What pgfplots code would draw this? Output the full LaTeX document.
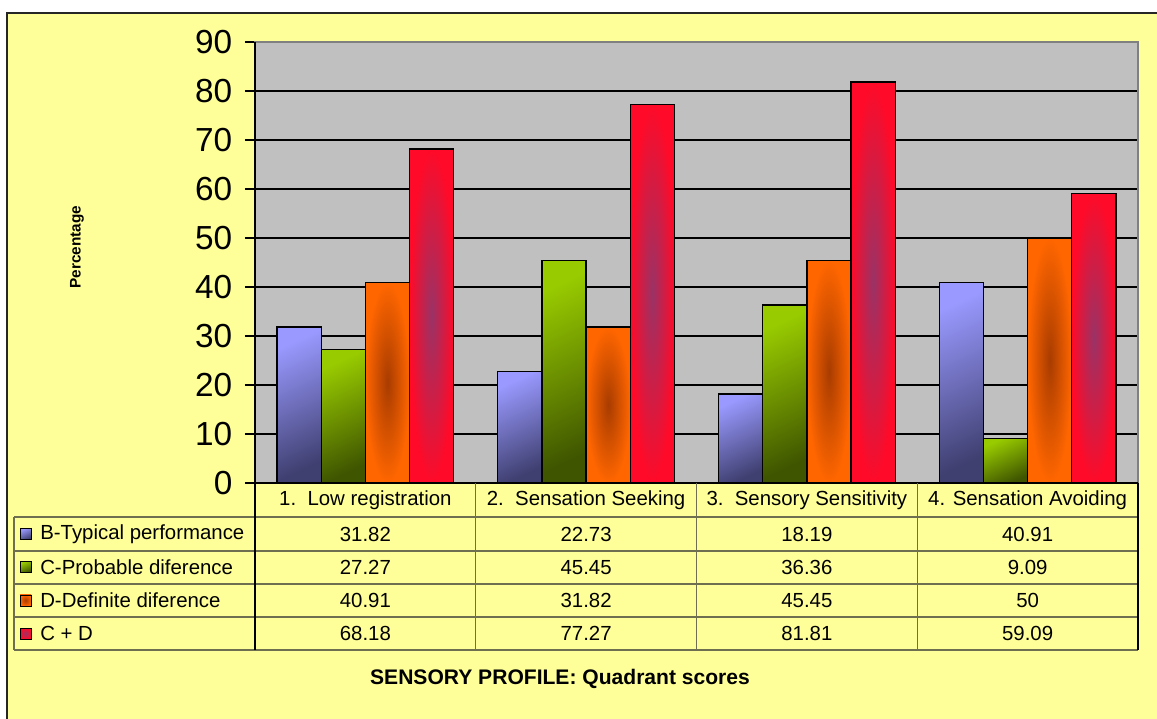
\documentclass[border=0pt]{standalone}
\usepackage{pgfplots}
\usepackage{pgfplotstable}
\pgfplotsset{compat=1.18}
\usepackage{fontspec}
\setmainfont{Liberation Sans}

\definecolor{chartbg}{HTML}{FFFF99}
\definecolor{plotbg}{HTML}{C0C0C0}
\definecolor{rulec}{HTML}{6E6E50}
\definecolor{bLight}{HTML}{9999FF}
\definecolor{bDark}{HTML}{3F3F70}
\definecolor{gLight}{HTML}{99CC00}
\definecolor{gDark}{HTML}{3F5500}
\definecolor{oEdge}{HTML}{FF6600}
\definecolor{oCore}{HTML}{A83C00}
\definecolor{rEdge}{HTML}{FF0A28}
\definecolor{rCore}{HTML}{993366}

\tikzset{
  shadeB/.style={top color=bLight, bottom color=bDark, shading angle=25},
  shadeC/.style={top color=gLight, bottom color=gDark, shading angle=25},
  shadeD/.style={inner color=oCore, outer color=oEdge},
  shadeCD/.style={inner color=rCore, outer color=rEdge},
}

% Quadrant scores (percentages)
\pgfplotstableread{
q B C D CD
1 31.82 27.27 40.91 68.18
2 22.73 45.45 31.82 77.27
3 18.19 36.36 45.45 81.81
4 40.91 9.09 50 59.09
}\quadrant

\newcommand\tablefont{\fontsize{15.3}{18}\selectfont}

\begin{document}
\begin{tikzpicture}
\begin{scope}[x=0.75pt, y=-0.75pt]
  \useasboundingbox (0,0) rectangle (1157,718);
  \fill[white] (0,0) rectangle (1157,718);
  \filldraw[fill=chartbg, draw=black!85, line width=1.2pt] (7,13) rectangle (1180,740);
\end{scope}

\begin{axis}[
  at={(255*0.75pt,-483*0.75pt)}, anchor=south west,
  scale only axis, width=662.25pt, height=330.75pt,
  xmin=0.5, xmax=4.5, ymin=0, ymax=90,
  xtick=\empty,
  ytick={0,10,...,90},
  ytick pos=left,
  ymajorgrids,
  grid style={black, line width=0.8pt},
  axis background/.style={fill=plotbg},
  axis line style={draw=gray, line width=1pt},
  tick align=outside,
  major tick length=7.5pt,
  ytick style={black, line width=0.8pt},
  /pgf/number format/assume math mode=true,
  yticklabel style={font=\fontsize{25}{28}\selectfont, xshift=-6pt},
  every axis plot/.append style={ybar, bar width=0.2, draw=black, line width=1pt},
  clip=false,
]
  % one path per bar, so that every bar carries its own gradient
  \pgfplotsinvokeforeach{1,...,4}{
    \addplot[bar shift=-0.3, shadeB, restrict x to domain=#1:#1] table[x=q, y=B] {\quadrant};
    \addplot[bar shift=-0.1, shadeC, restrict x to domain=#1:#1] table[x=q, y=C] {\quadrant};
    \addplot[bar shift=0.1, shadeD, restrict x to domain=#1:#1] table[x=q, y=D] {\quadrant};
    \addplot[bar shift=0.3, shadeCD, restrict x to domain=#1:#1] table[x=q, y=CD] {\quadrant};
  }
  \draw[black, line width=1pt] (rel axis cs:0,0) -- (rel axis cs:0,1);
\end{axis}

\begin{scope}[x=0.75pt, y=-0.75pt]
  % data table under the plot
  \foreach \yy in {517,551,584,617,650}
    \draw[rulec, line width=1pt] (14,\yy) -- (1138,\yy);
  \draw[black, line width=1pt] (255,483) -- (1138,483);
  \draw[rulec, line width=1pt] (14,517) -- (14,650);
  \draw[black, line width=1pt] (255,483) -- (255,650);
  \foreach \xx in {475.75,696.5,917.25}
    \draw[rulec, line width=1pt] (\xx,483) -- (\xx,650);
  \draw[black, line width=1pt] (1138,483) -- (1138,650);

  \node[font=\tablefont] at (365.375,500) {1.~~Low registration};
  \node[font=\tablefont] at (586.125,500) {2.~~Sensation Seeking};
  \node[font=\tablefont] at (806.875,500) {3.~~Sensory Sensitivity};
  \node[font=\tablefont] at (1027.625,500) {4. Sensation Avoiding};

  \foreach \st/\lab [count=\j from 0] in {shadeB/B-Typical performance, shadeC/C-Probable diference, shadeD/D-Definite diference, shadeCD/C + D}{
    \path[\st, draw=black, line width=0.6pt] (20,{528.5+33.2*\j}) rectangle (31,{539.5+33.2*\j});
    \node[font=\tablefont, anchor=west, inner sep=0pt] at (40,{534+33.2*\j}) {\lab};
  }

  \foreach \col [count=\j from 0] in {B,C,D,CD}{
    \foreach \i in {0,...,3}{
      \pgfplotstablegetelem{\i}{\col}\of\quadrant
      \node[font=\tablefont] at ({365.375+220.75*\i},{534+33.2*\j}) {\pgfplotsretval};
    }
  }

  \node[font=\fontsize{11.5}{14}\selectfont\bfseries, rotate=90] at (77,247) {Percentage};
  \node[font=\fontsize{15.8}{19}\selectfont\bfseries] at (560,679) {SENSORY PROFILE: Quadrant scores};
\end{scope}
\end{tikzpicture}
\end{document}
